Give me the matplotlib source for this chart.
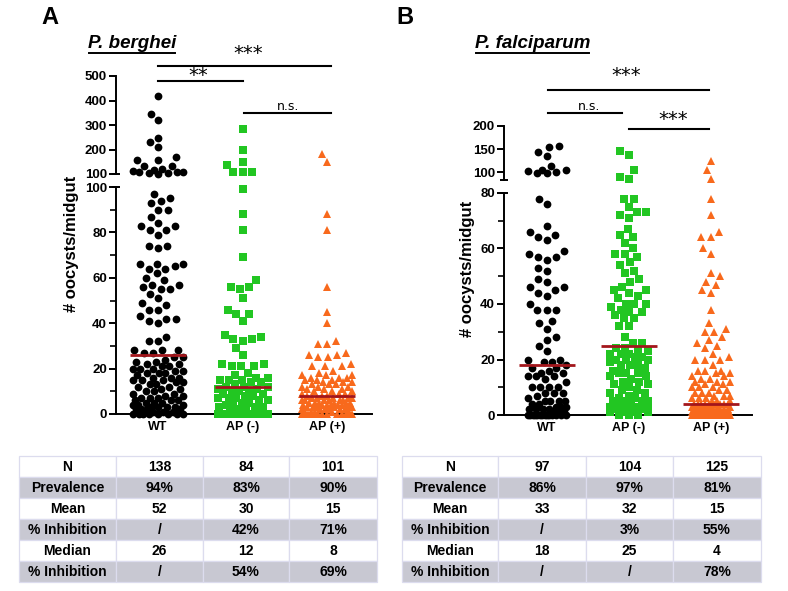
import numpy as np
import matplotlib
matplotlib.use("Agg")
import matplotlib.pyplot as plt
from matplotlib.patches import Rectangle
from matplotlib.lines import Line2D
from matplotlib.transforms import blended_transform_factory, IdentityTransform
from matplotlib.ticker import MultipleLocator, FixedLocator

plt.rcParams['font.family'] = ['Liberation Sans', 'DejaVu Sans']
plt.rcParams['font.weight'] = 'bold'

categories = ["WT", "AP (-)", "AP (+)"]

# ---------------- Panel A : P. berghei ----------------
berghei_wt = [0, 0, 0, 0, 0, 0, 0, 0,
              1, 1, 1, 2, 2, 2, 2, 3, 3, 3, 3, 4, 4, 4, 5, 5, 5, 6, 6, 6, 7, 7, 7,
              8, 8, 9, 9, 10, 10, 11, 11, 12, 12, 13, 13, 14, 14, 15, 15, 15, 16, 16, 16,
              17, 18, 18, 18, 19, 19, 20, 20, 20, 21, 21, 22, 22, 23, 23, 24, 25, 25,
              27, 27, 28, 28, 28, 32, 32, 34, 40, 41, 42, 42, 43, 46, 46, 48, 49, 51, 53,
              55, 55, 56, 57, 57, 59, 60, 62, 64, 64, 65, 66, 66, 66, 73, 74, 74, 79, 81,
              81, 83, 83, 84, 87, 90, 90, 93, 94, 95, 97,
              102, 103, 105, 108, 110, 110, 112, 115, 120, 134, 134, 157, 157, 168, 209,
              229, 248, 320, 346, 418]
berghei_apneg = [0, 0, 0, 0, 0, 0, 0, 0, 0, 0, 0, 0, 0, 0,
                 1, 1, 2, 2, 3, 3, 3, 4, 4, 5, 5, 6, 6, 7, 7, 7, 8, 8, 9, 9, 10, 10, 10,
                 11, 11, 12, 12, 12, 13, 14, 14, 15, 15, 15, 16, 16, 17,
                 18, 21, 21, 21, 22, 22, 26, 29, 32, 33, 33, 34, 35, 41, 44, 44, 46, 51,
                 55, 56, 56, 59, 69, 81, 88, 99,
                 107, 107, 107, 137, 148, 198, 284]
berghei_appos = [0, 0, 0, 0, 0, 0, 0, 0, 0, 0,
                 1, 1, 1, 1, 1, 2, 2, 2, 2, 2, 2, 3, 3, 3, 3, 3, 3, 4, 4, 4, 4, 4, 4,
                 5, 5, 5, 5, 5, 5, 6, 6, 6, 6, 6, 6, 7, 7, 7, 7, 7, 8, 8, 8, 9, 9, 9,
                 10, 10, 10, 11, 11, 11, 12, 12, 12, 13, 13, 13, 14, 14, 14, 15, 15, 15,
                 16, 16, 16, 17, 17, 17,
                 18, 19, 21, 21, 21, 22, 25, 25, 26, 26, 27, 31, 31, 32, 40, 45, 56, 81, 88,
                 150, 182]
berghei_median = [26, 12, 8]

# ---------------- Panel B : P. falciparum ----------------
falciparum_wt = [0, 0, 0, 0, 0, 0, 0, 0, 0, 0, 0, 0, 0, 0,
                 1, 1, 1, 2, 2, 2, 2, 3, 3, 3, 4, 4, 5, 5, 5, 5, 6, 7, 8, 8, 8,
                 10, 10, 10, 10, 12, 13, 14, 14, 14, 15, 15, 16, 17, 17, 18, 19, 19, 20, 20,
                 23, 25, 27, 28, 31, 33, 34, 38, 38, 38, 40, 43, 44, 45, 46, 46, 48, 49,
                 52, 53, 56, 57, 57, 58, 59, 63, 64, 65, 66, 68, 76, 78,
                 99, 99, 101, 103, 104, 105, 114, 134, 143, 154, 157]
falciparum_apneg = [0, 0, 0,
                    1, 1, 1, 1, 2, 2, 2, 2, 3, 3, 3, 3, 4, 4, 5, 5, 5, 5, 6, 6, 7, 8, 8,
                    9, 9, 10, 11, 11, 12, 12, 13, 14, 14, 15, 15, 15, 16, 17, 18, 18, 18,
                    19, 20, 20, 20, 21, 21, 22, 22, 23, 23, 24, 24,
                    22, 26, 26, 28, 32, 32, 35, 35, 36, 37, 37, 38, 39, 40, 40, 40, 42, 43,
                    44, 45, 45, 46, 48, 49, 51, 52, 54, 55, 57, 58, 58, 60, 62, 64, 65, 67,
                    71, 72, 73, 73, 75, 78, 78,
                    86, 90, 104, 138, 146]
falciparum_appos = [0, 0, 0, 0, 0, 0, 0, 0, 0, 0, 0, 0, 0, 0, 0, 0, 0, 0, 0, 0, 0, 0, 0, 0,
                    1, 1, 1, 1, 1, 1, 1, 1, 1, 1, 1, 2, 2, 2, 2, 2, 2, 2, 2, 2, 2,
                    3, 3, 3, 3, 3, 3, 3, 3, 4, 4, 4, 4, 4, 4, 4, 4, 4,
                    5, 5, 5, 6, 6, 6, 7, 7, 7, 8, 8, 8, 9, 9, 10, 10, 10, 11, 11,
                    12, 12, 12, 13, 13, 14, 14, 15, 15,
                    16, 16, 16, 18, 20, 20, 20, 21, 22, 24, 25, 26, 27, 28, 30, 30, 31, 33,
                    38, 44, 45, 47, 48, 50, 51, 58, 60, 64, 64, 66, 72, 78,
                    85, 104, 125]
falciparum_median = [18, 25, 4]

# ---------------- Tables ----------------
row_labels = ["N", "Prevalence", "Mean", "% Inhibition", "Median", "% Inhibition"]
table_berghei = [["138", "84", "101"], ["94%", "83%", "90%"], ["52", "30", "15"],
                 ["/", "42%", "71%"], ["26", "12", "8"], ["/", "54%", "69%"]]
table_falciparum = [["97", "104", "125"], ["86%", "97%", "81%"], ["33", "32", "15"],
                    ["/", "3%", "55%"], ["18", "25", "4"], ["/", "/", "78%"]]

colors = ["#000000", "#22c622", "#f8691c"]
markers = ["o", "s", "^"]
msizes = [5.6, 5.2, 6.0]
median_color = "#a3161c"

W, H = 788, 591
fig = plt.figure(figsize=(W / 100, H / 100), dpi=100)


def rect(x0, y0, x1, y1):
    return [x0 / W, 1 - y1 / H, (x1 - x0) / W, (y1 - y0) / H]


ov = fig.add_axes([0, 0, 1, 1])
ov.set_xlim(0, W)
ov.set_ylim(H, 0)
ov.axis('off')


def style(ax, bottom):
    ax.set_facecolor('none')
    ax.spines['top'].set_visible(False)
    ax.spines['right'].set_visible(False)
    ax.spines['left'].set_linewidth(1.4)
    if bottom:
        ax.spines['bottom'].set_linewidth(1.4)
        ax.set_xticks([0, 1, 2])
        ax.set_xticklabels(categories)
        ax.tick_params(axis='x', length=0, pad=5, labelsize=9)
    else:
        ax.spines['bottom'].set_visible(False)
        ax.set_xticks([])
    ax.tick_params(axis='y', which='major', length=5, width=1.4, pad=1.5, labelsize=9.5)
    ax.tick_params(axis='y', which='minor', length=4, width=1.2)


def beeswarm_offsets(ypix, d, maxhw):
    """Classic beeswarm in pixel space; returns x offsets in pixels."""
    order = np.argsort(ypix, kind='stable')
    offs = np.zeros(len(ypix))
    placed = []
    grid = np.linspace(-maxhw, maxhw, 49)
    for i in order:
        y = ypix[i]
        near = [(px, py) for (px, py) in placed if abs(y - py) < d]
        intervals = []
        for px, py in near:
            w = np.sqrt(d * d - (y - py) ** 2)
            intervals.append((px - w, px + w))
        cands = [0.0] + [a for a, b in intervals] + [b for a, b in intervals]
        cands.sort(key=lambda c: (abs(c), c))
        chosen = None
        for c in cands:
            if abs(c) > maxhw + 1e-9:
                continue
            if all(not (a + 1e-6 < c < b - 1e-6) for a, b in intervals):
                chosen = c
                break
        if chosen is None:
            best, bestd = 0.0, -1.0
            for g in grid:
                md = min(np.hypot(g - px, y - py) for px, py in near)
                if md > bestd + 1e-9:
                    best, bestd = g, md
            chosen = best
        offs[i] = chosen
        placed.append((chosen, y))
    return offs


def swarm(ax_lo, ax_hi, brk, values, center, d, maxhw):
    vals = np.asarray(values, dtype=float)
    hi = vals > brk
    pts = np.column_stack([np.full(len(vals), float(center)), vals])
    ypix = np.empty(len(vals))
    if (~hi).any():
        ypix[~hi] = ax_lo.transData.transform(pts[~hi])[:, 1]
    if hi.any():
        ypix[hi] = ax_hi.transData.transform(pts[hi])[:, 1]
    ppu = ax_lo.transData.transform((1, 0))[0] - ax_lo.transData.transform((0, 0))[0]
    offs = beeswarm_offsets(ypix, d, maxhw)
    return center + offs / ppu, vals, hi


def panel(px0, px1, lo_top, lo_bot, hi_top, hi_bot, lo_lim, hi_lim, xlim, hi_ticks,
          groups, medians, maxhw, med_hw):
    ax_lo = fig.add_axes(rect(px0, lo_top, px1, lo_bot))
    ax_hi = fig.add_axes(rect(px0, hi_top, px1, hi_bot))
    for ax in (ax_lo, ax_hi):
        ax.set_xlim(*xlim)
    ax_lo.set_ylim(*lo_lim)
    ax_hi.set_ylim(*hi_lim)
    style(ax_lo, True)
    style(ax_hi, False)
    ax_lo.yaxis.set_major_locator(MultipleLocator(20))
    ax_lo.yaxis.set_minor_locator(MultipleLocator(10))
    ax_hi.yaxis.set_major_locator(FixedLocator(hi_ticks))
    brk = lo_lim[1]
    for g, vals in enumerate(groups):
        xs, v, hi = swarm(ax_lo, ax_hi, brk, vals, g, 9.5, maxhw)
        for ax, mask in ((ax_lo, ~hi), (ax_hi, hi)):
            ax.plot(xs[mask], v[mask], linestyle='none', marker=markers[g],
                    markersize=msizes[g], markerfacecolor=colors[g],
                    markeredgewidth=0, clip_on=False, zorder=3)
        ax_lo.plot([g - med_hw, g + med_hw], [medians[g], medians[g]],
                   color=median_color, lw=2.0, zorder=5, solid_capstyle='butt')
    for yy in (lo_top, hi_bot):
        ov.plot([px0 - 4, px0 + 4], [yy, yy], color='black', lw=1.4,
                solid_capstyle='butt')
    return ax_lo, ax_hi


axA, axA_hi = panel(116, 372, 187, 414, 76, 174, (0, 100), (100, 500), (-0.497, 2.53),
                    [100, 200, 300, 400, 500],
                    [berghei_wt, berghei_apneg, berghei_appos], berghei_median, 25, 0.33)
axB, axB_hi = panel(504, 752, 193, 415, 126, 180, (0, 80), (83, 200), (-0.524, 2.50),
                    [100, 150, 200],
                    [falciparum_wt, falciparum_apneg, falciparum_appos], falciparum_median,
                    19, 0.34)

# y labels
ov.text(72, 244, "# oocysts/midgut", rotation=90, ha='center', va='center', fontsize=12)
ov.text(468, 269, "# oocysts/midgut", rotation=90, ha='center', va='center', fontsize=12)

# panel letters and titles
ov.text(41, 18, "A", ha='left', va='center', fontsize=17)
ov.text(396, 18, "B", ha='left', va='center', fontsize=17)
tA = ov.text(88, 44, "P. berghei", ha='left', va='center', fontsize=13.5, style='italic')
tB = ov.text(475, 44, "P. falciparum", ha='left', va='center', fontsize=13.5, style='italic')

# significance bars
trA = blended_transform_factory(axA.transData, ov.transData)
trB = blended_transform_factory(axB.transData, ov.transData)
sig_kw = dict(ha='center', va='center', fontweight='normal', family='DejaVu Sans')
for tr, x0, x1, y, txt, tx, ty, fs in [
        (trA, 0, 2.05, 66, "***", 1.065, 53, 14),
        (trA, 0, 1.01, 81, "**", 0.47, 76, 14),
        (trA, 1.02, 2.05, 113, "n.s.", 1.54, 106, 9),
        (trB, 0.01, 1.976, 90, "***", 0.96, 76, 14),
        (trB, 0.01, 0.915, 113, "n.s.", 0.51, 106, 9),
        (trB, 1.0, 1.976, 129, "***", 1.54, 119, 14)]:
    ov.plot([x0, x1], [y, y], transform=tr, color='black', lw=1.5, clip_on=False)
    ov.text(tx, ty, txt, transform=tr, fontsize=fs, **sig_kw)


# tables
def draw_table(cols, y0, rowh, data):
    grey = "#c8c8d2"
    edge = "#dcdcee"
    for r in range(len(row_labels)):
        y = y0 + r * rowh
        fc = grey if r % 2 else "white"
        for c in range(4):
            ov.add_patch(Rectangle((cols[c], y), cols[c + 1] - cols[c], rowh,
                                   facecolor=fc, edgecolor=edge, lw=0.9))
            txt = row_labels[r] if c == 0 else data[r][c - 1]
            ov.text((cols[c] + cols[c + 1]) / 2, y + rowh / 2 + 0.5, txt,
                    ha='center', va='center', fontsize=10)


draw_table([19, 116, 203, 289, 377], 456, 21, table_berghei)
draw_table([402, 498, 586, 673, 761], 456, 21, table_falciparum)

# underline titles
fig.canvas.draw()
rend = fig.canvas.get_renderer()
for t in (tA, tB):
    bb = t.get_window_extent(rend)
    yy = bb.y0 - 0.5
    fig.add_artist(Line2D([bb.x0 + 1, bb.x1 - 1], [yy, yy], transform=IdentityTransform(),
                          color='black', lw=1.4))

fig.savefig("out.png", dpi=100)
